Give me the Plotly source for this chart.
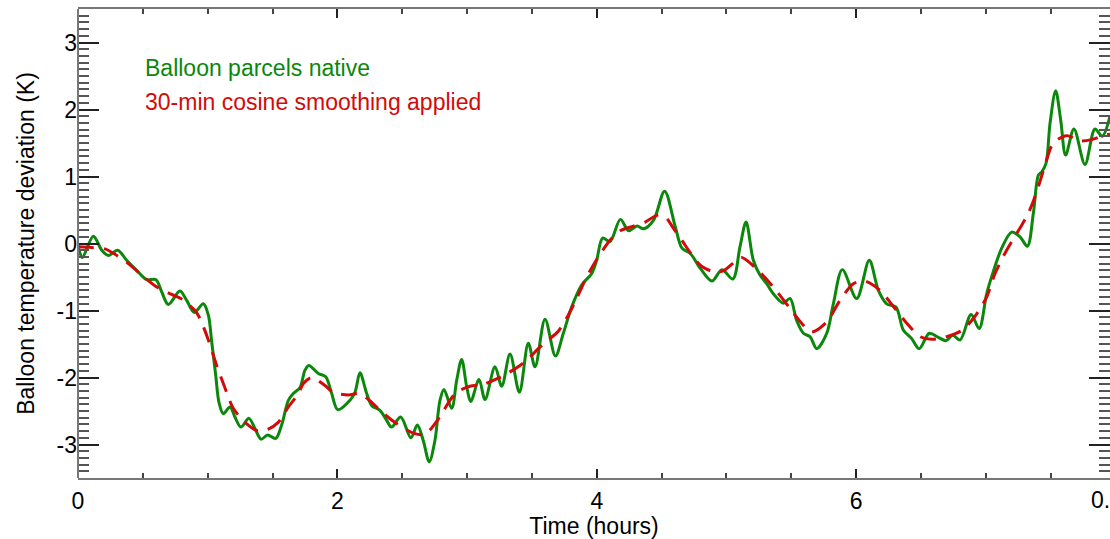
import plotly.graph_objects as go

# Native balloon parcel temperature deviation (hours, K)
time_native = [0.000, 0.033, 0.118, 0.183, 0.234, 0.306, 0.375, 0.452, 0.529, 0.601,
               0.645, 0.696, 0.786, 0.838, 0.897, 0.966, 1.005, 1.031, 1.062, 1.087,
               1.120, 1.172, 1.210, 1.256, 1.318, 1.364, 1.411, 1.462, 1.524, 1.570,
               1.622, 1.660, 1.712, 1.750, 1.780, 1.853, 1.910, 1.956, 2.003, 2.097,
               2.136, 2.174, 2.226, 2.265, 2.328, 2.380, 2.418, 2.488, 2.567, 2.616,
               2.662, 2.708, 2.752, 2.791, 2.822, 2.881, 2.920, 2.958, 2.997, 3.028,
               3.092, 3.138, 3.215, 3.267, 3.331, 3.403, 3.472, 3.524, 3.601, 3.681,
               3.742, 3.806, 3.883, 3.960, 3.999, 4.045, 4.102, 4.182, 4.245, 4.311,
               4.361, 4.438, 4.523, 4.605, 4.657, 4.721, 4.798, 4.888, 4.965, 5.049,
               5.104, 5.151, 5.207, 5.258, 5.310, 5.361, 5.438, 5.490, 5.541, 5.593,
               5.644, 5.696, 5.773, 5.824, 5.893, 6.004, 6.101, 6.171, 6.235, 6.307,
               6.363, 6.428, 6.486, 6.564, 6.633, 6.692, 6.744, 6.801, 6.886, 6.948,
               7.006, 7.057, 7.122, 7.199, 7.263, 7.320, 7.366, 7.405, 7.431, 7.464,
               7.495, 7.538, 7.577, 7.615, 7.679, 7.764, 7.841, 7.897, 7.957]
temp_native = [-0.02, -0.21, 0.11, -0.10, -0.18, -0.10, -0.25, -0.40, -0.54, -0.54,
               -0.72, -0.91, -0.71, -0.85, -1.03, -0.90, -1.07, -1.47, -1.97, -2.37,
               -2.54, -2.44, -2.59, -2.74, -2.61, -2.76, -2.92, -2.86, -2.91, -2.71,
               -2.34, -2.24, -2.15, -1.89, -1.82, -1.94, -1.99, -2.24, -2.48, -2.34,
               -2.22, -1.93, -2.24, -2.42, -2.49, -2.64, -2.74, -2.59, -2.90, -2.71,
               -2.94, -3.26, -2.94, -2.34, -2.18, -2.46, -2.04, -1.73, -2.14, -2.36,
               -2.03, -2.33, -1.84, -2.13, -1.65, -2.22, -1.49, -1.84, -1.13, -1.68,
               -1.34, -0.95, -0.62, -0.45, -0.25, 0.08, 0.03, 0.36, 0.19, 0.26,
               0.22, 0.35, 0.78, 0.25, -0.07, -0.15, -0.37, -0.56, -0.39, -0.53,
               -0.05, 0.32, -0.25, -0.47, -0.60, -0.75, -0.89, -0.82, -1.15, -1.34,
               -1.39, -1.57, -1.34, -0.90, -0.39, -0.82, -0.25, -0.70, -0.90, -0.95,
               -1.29, -1.42, -1.57, -1.34, -1.40, -1.45, -1.37, -1.44, -1.06, -1.27,
               -0.75, -0.42, -0.07, 0.17, 0.10, -0.04, 0.45, 1.02, 1.07, 1.20,
               1.80, 2.28, 1.84, 1.32, 1.71, 1.18, 1.71, 1.60, 1.90]

# Same record after a 30-minute cosine smoothing window
time_smooth = [0.000, 0.105, 0.208, 0.285, 0.388, 0.491, 0.607, 0.722, 0.799, 0.902,
               0.940, 1.005, 1.069, 1.146, 1.197, 1.288, 1.390, 1.467, 1.544, 1.622,
               1.699, 1.738, 1.802, 1.904, 1.968, 2.084, 2.169, 2.265, 2.328, 2.444,
               2.585, 2.675, 2.752, 2.811, 2.868, 2.920, 3.022, 3.112, 3.228, 3.318,
               3.408, 3.472, 3.549, 3.626, 3.703, 3.780, 3.845, 3.922, 4.012, 4.102,
               4.180, 4.282, 4.373, 4.462, 4.526, 4.590, 4.655, 4.744, 4.808, 4.898,
               4.975, 5.066, 5.117, 5.243, 5.361, 5.490, 5.593, 5.657, 5.773, 5.875,
               5.978, 6.068, 6.184, 6.287, 6.390, 6.493, 6.582, 6.698, 6.813, 6.903,
               7.006, 7.070, 7.160, 7.263, 7.327, 7.392, 7.456, 7.520, 7.623, 7.726,
               7.816, 7.906, 7.957]
temp_smooth = [-0.05, -0.06, -0.08, -0.16, -0.30, -0.47, -0.65, -0.76, -0.83, -1.00,
               -1.12, -1.44, -1.82, -2.22, -2.46, -2.67, -2.80, -2.77, -2.67, -2.44,
               -2.24, -2.09, -2.00, -2.12, -2.22, -2.26, -2.24, -2.37, -2.49, -2.67,
               -2.83, -2.85, -2.69, -2.52, -2.34, -2.22, -2.13, -2.11, -2.02, -1.93,
               -1.82, -1.72, -1.57, -1.44, -1.31, -1.07, -0.82, -0.50, -0.20, 0.05,
               0.19, 0.26, 0.32, 0.42, 0.40, 0.23, 0.05, -0.20, -0.34, -0.42,
               -0.41, -0.27, -0.21, -0.40, -0.65, -0.97, -1.22, -1.32, -1.17, -0.85,
               -0.60, -0.56, -0.70, -0.94, -1.19, -1.39, -1.43, -1.39, -1.30, -1.12,
               -0.80, -0.45, -0.10, 0.23, 0.45, 0.77, 1.17, 1.50, 1.61, 1.53,
               1.55, 1.61, 1.63]

y_tick_vals = [-3, -2, -1, 0, 1, 2, 3]
y_tick_text = ["-3", "-2", "-1", "0", "1", "2", "3"]
x_tick_vals = [0, 2, 4, 6]
x_tick_text = ["0", "2", "4", "6"]

GREEN = "#0b870b"
RED = "#d30a0a"
AXIS_GREY = "#777777"
FONT = "Liberation Sans, Arial, Helvetica, sans-serif"

W, H = 1110, 539
ML, MR, MT, MB = 78, 0, 9, 61


def px_x(px):
    return (px - ML) / (W - ML - MR)


def px_y(py):
    return 1 - (py - MT) / (H - MT - MB)


fig = go.Figure()
fig.add_trace(go.Scatter(x=time_native, y=temp_native, mode="lines",
                         line=dict(color=GREEN, width=3, shape="spline", smoothing=0.9),
                         showlegend=False))
fig.add_trace(go.Scatter(x=time_smooth, y=temp_smooth, mode="lines",
                         line=dict(color=RED, width=3, shape="spline", smoothing=0.8,
                                   dash="16px,10px"),
                         showlegend=False))

# In-plot labels for the two curves
fig.add_annotation(x=px_x(143), y=px_y(68), xref="paper", yref="paper",
                   text="Balloon parcels native", showarrow=False,
                   xanchor="left", yanchor="middle",
                   font=dict(family=FONT, size=23, color=GREEN))
fig.add_annotation(x=px_x(143), y=px_y(102), xref="paper", yref="paper",
                   text="30-min cosine smoothing applied", showarrow=False,
                   xanchor="left", yanchor="middle",
                   font=dict(family=FONT, size=23, color=RED))

# Last time label, clipped by the right edge
fig.add_annotation(x=1.0, y=px_y(500), xref="paper", yref="paper", text="0.5",
                   showarrow=False, xanchor="left", yanchor="middle", xshift=-21,
                   font=dict(family=FONT, size=23, color="black"))

# Left frame edge (the right edge lies outside the page)
fig.add_shape(type="line", xref="paper", yref="paper", x0=0, x1=0, y0=0, y1=1,
              line=dict(color=AXIS_GREY, width=2), layer="above")

tick_font = dict(family=FONT, size=23, color="black")

fig.update_layout(
    width=W, height=H,
    margin=dict(l=ML, r=MR, t=MT, b=MB),
    paper_bgcolor="white", plot_bgcolor="white",
    xaxis=dict(range=[0, 7.957], tickvals=x_tick_vals, ticktext=x_tick_text,
               showline=True, linecolor=AXIS_GREY, linewidth=2, mirror="ticks",
               ticks="inside", ticklen=9, tickcolor="#222222", tickwidth=1.5,
               ticklabelstandoff=1, tickfont=tick_font,
               showgrid=False, zeroline=False,
               minor=dict(ticks="inside", dtick=0.5, ticklen=5,
                          tickcolor="#444444", tickwidth=1.5),
               title=dict(text="Time (hours)", font=dict(family=FONT, size=23, color="black"),
                          standoff=10)),
    yaxis=dict(range=[-3.5, 3.5], tickvals=y_tick_vals, ticktext=y_tick_text,
               showline=False, mirror="ticks",
               ticks="inside", ticklen=21, tickcolor="#222222", tickwidth=1.5,
               ticklabelstandoff=0, tickfont=tick_font,
               showgrid=False, zeroline=False,
               minor=dict(ticks="inside", dtick=0.1, ticklen=11,
                          tickcolor="#555555", tickwidth=1.5),
               title=dict(text="Balloon temperature deviation (K)",
                          font=dict(family=FONT, size=23, color="black"), standoff=15)),
)

fig.write_html("out.html")
